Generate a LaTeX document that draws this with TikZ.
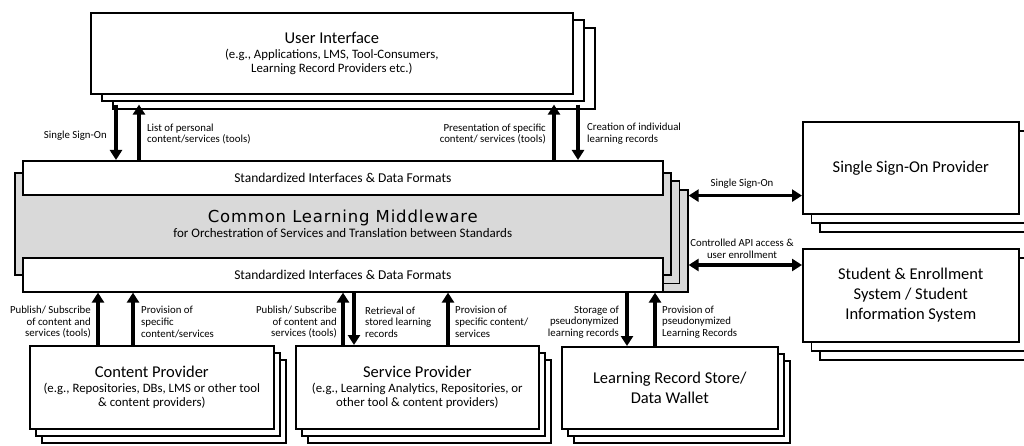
\documentclass[tikz,border=0pt]{standalone}
\usepackage{fontspec}
\setmainfont{Carlito}
\newfontfamily\mwfont[LetterSpace=5]{DejaVu Sans}
\usetikzlibrary{arrows.meta,shadows}

\newcommand\boxhead{\fontsize{16.5}{20}\selectfont}
\newcommand\boxsub{\fontsize{12.8}{14}\selectfont}

\begin{document}
\begin{tikzpicture}[x=1pt,y=-1pt,>={Triangle[width=12pt,length=10pt]},
  box/.style={draw,line width=1.6pt,fill=white,align=center,anchor=north west,inner sep=0pt},
  stack/.style 2 args={double copy shadow={shadow xshift=#1,shadow yshift=-#2}},
  flow/.style={line width=3.6pt},
  lbl/.style={font=\fontsize{10.8}{11.7}\selectfont,inner sep=0pt},
  bar/.style={box,minimum width=640pt,minimum height=34pt,font=\fontsize{13.5}{16}\selectfont}]
\useasboundingbox (0,0) rectangle (1024,446);
\clip (0,0) rectangle (1024,446);

\node[box,stack={11pt}{7.5pt},minimum width=482pt,minimum height=81pt,font=\boxsub] (ui) at (90,12)
  {{\boxhead User Interface}\\[1pt](e.g., Applications, LMS, Tool-Consumers,\\Learning Record Providers etc.)};
\node[box,stack={8.5pt}{8.5pt},fill=gray!30,minimum width=656pt,minimum height=102pt,font=\fontsize{13}{15}\selectfont] (mw) at (14,172)
  {{\mwfont\fontsize{16.5}{18}\selectfont Common Learning Middleware}\\for Orchestration of Services and Translation between Standards};
\node[bar] (stdtop) at (22,160) {Standardized Interfaces \& Data Formats};
\node[bar] (stdbot) at (22,257) {Standardized Interfaces \& Data Formats};
\node[box,stack={8.5pt}{9pt},minimum width=216pt,minimum height=92pt,font=\boxhead] (sso) at (802,121) {Single Sign-On Provider};
\node[box,stack={8.5pt}{9pt},minimum width=216pt,minimum height=93pt,font=\boxhead] (sis) at (802,248)
  {Student \& Enrollment\\System / Student\\Information System};
\node[box,stack={6pt}{7pt},minimum width=244pt,minimum height=83pt,font=\boxsub] (cp) at (29,345)
  {{\boxhead Content Provider}\\[1pt](e.g., Repositories, DBs, LMS or other tool\\\& content providers)};
\node[box,stack={6pt}{7pt},minimum width=243pt,minimum height=83pt,font=\boxsub] (sp) at (295,345)
  {{\boxhead Service Provider}\\[1pt](e.g., Learning Analytics, Repositories, or\\other tool \& content providers)};
\node[box,stack={6pt}{7pt},minimum width=216pt,minimum height=82pt,font=\boxhead] (lrs) at (561,346)
  {Learning Record Store/\\Data Wallet};

\node[lbl,anchor=east] (l-sso) at (107,136) {Single Sign-On};
\node[lbl,anchor=west,align=left] (l-list) at (147,134) {List of personal\\content/services (tools)};
\node[lbl,anchor=east,align=right] (l-pres) at (546,134) {Presentation of specific\\content/ services (tools)};
\node[lbl,anchor=west,align=left] (l-crea) at (587,134) {Creation of individual\\learning records};
\node[lbl] (l-sso2) at (742,184) {Single Sign-On};
\node[lbl,align=center] (l-api) at (742,249) {Controlled API access \&\\user enrollment};
\node[lbl,anchor=east,align=right] (l-cp1) at (91,322) {Publish/ Subscribe\\of content and\\services (tools)};
\node[lbl,anchor=west,align=left] (l-cp2) at (141,322) {Provision of\\specific\\content/services};
\node[lbl,anchor=east,align=right] (l-sp1) at (337,322) {Publish/ Subscribe\\of content and\\services (tools)};
\node[lbl,anchor=west,align=left] (l-sp2) at (365,322) {Retrieval of\\stored learning\\records};
\node[lbl,anchor=west,align=left] (l-sp3) at (455,322) {Provision of\\specific content/\\services};
\node[lbl,anchor=east,align=right] (l-lrs1) at (619,322) {Storage of\\pseudonymized\\learning records};
\node[lbl,anchor=west,align=left] (l-lrs2) at (662,322) {Provision of\\pseudonymized\\Learning Records};

\coordinate (uibase) at ([yshift=-10pt]ui.south);
\coordinate (mwedge) at ([xshift=17pt]mw.east);
\draw[flow,->] (uibase -| 116,0) -- (116,0 |- stdtop.north);
\draw[flow,->] (139,0 |- stdtop.north) -- (uibase -| 139,0);
\draw[flow,->] (554,0 |- stdtop.north) -- (uibase -| 554,0);
\draw[flow,->] (uibase -| 578,0) -- (578,0 |- stdtop.north);
\draw[flow,<->] (mwedge |- stdtop.south) -- (sso.west |- stdtop.south);
\draw[flow,<->] (mwedge |- 0,265) -- (sis.west |- 0,265);
\draw[flow,->] (98,0 |- cp.north) -- (98,0 |- stdbot.south);
\draw[flow,->] (133,0 |- cp.north) -- (133,0 |- stdbot.south);
\draw[flow,->] (343,0 |- sp.north) -- (343,0 |- stdbot.south);
\draw[flow,->] (354,0 |- stdbot.south) -- (354,0 |- sp.north);
\draw[flow,->] (448,0 |- sp.north) -- (448,0 |- stdbot.south);
\draw[flow,->] (627,0 |- stdbot.south) -- (627,0 |- lrs.north);
\draw[flow,->] (655,0 |- lrs.north) -- (655,0 |- stdbot.south);
\end{tikzpicture}
\end{document}
